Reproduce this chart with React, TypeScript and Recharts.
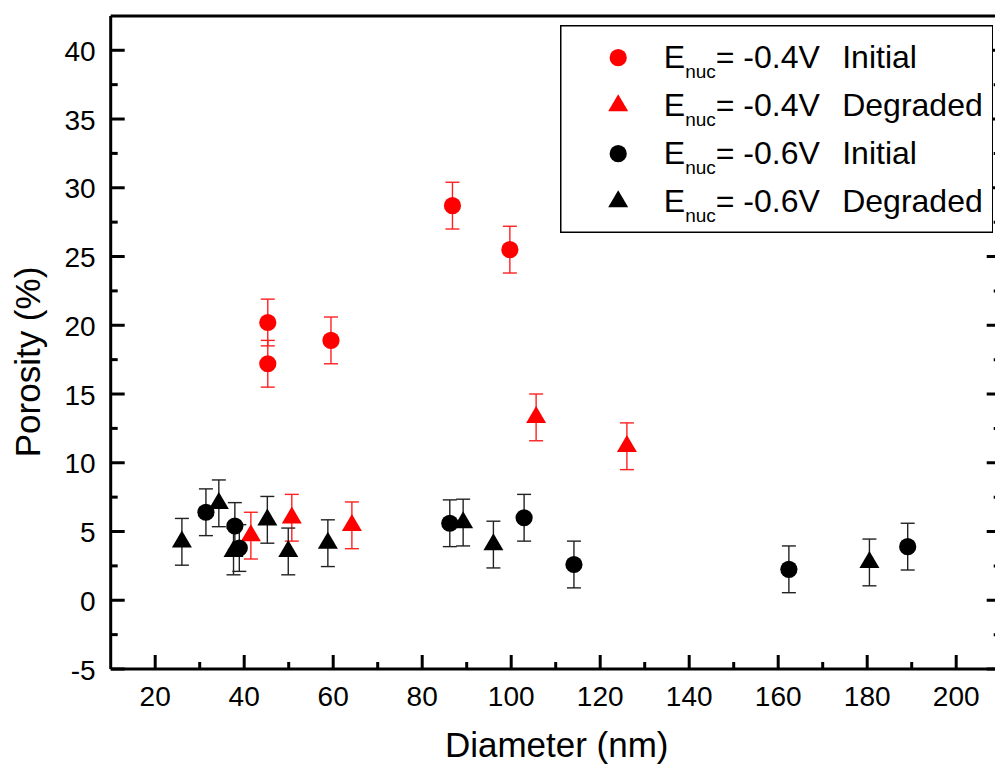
import { ErrorBar, Legend, Scatter, ScatterChart, XAxis, YAxis } from 'recharts';

// Porosity vs. pore diameter, with ± uncertainty, per nucleation potential and state
const initial04Diameter = [45.3, 45.3, 59.5, 86.8, 99.7];
const initial04Porosity = [20.2, 17.2, 18.9, 28.7, 25.5];
const initial04Error = [1.7, 1.7, 1.7, 1.7, 1.7];

const degraded04Diameter = [41.5, 50.7, 64.2, 105.6, 126.0];
const degraded04Porosity = [4.7, 6.0, 5.45, 13.3, 11.2];
const degraded04Error = [1.7, 1.7, 1.7, 1.7, 1.7];

const initial06Diameter = [31.4, 37.9, 38.9, 86.2, 102.9, 114.1, 162.4, 189.1];
const initial06Porosity = [6.4, 5.4, 3.8, 5.6, 6.0, 2.6, 2.25, 3.9];
const initial06Error = [1.7, 1.7, 1.7, 1.7, 1.7, 1.7, 1.7, 1.7];

const degraded06Diameter = [26.0, 34.3, 37.6, 45.2, 49.9, 58.8, 89.2, 96.0, 180.5];
const degraded06Porosity = [4.25, 7.05, 3.55, 5.85, 3.55, 4.15, 5.65, 4.05, 2.75];
const degraded06Error = [1.7, 1.7, 1.7, 1.7, 1.7, 1.7, 1.7, 1.7, 1.7];

const xMajorTicks = [20, 40, 60, 80, 100, 120, 140, 160, 180, 200];
const xMinorTicks = [30, 50, 70, 90, 110, 130, 150, 170, 190];
const yMajorTicks = [-5, 0, 5, 10, 15, 20, 25, 30, 35, 40];
const yMinorTicks = [-2.5, 2.5, 7.5, 12.5, 17.5, 22.5, 27.5, 32.5, 37.5];

const FONT = '"Liberation Sans", Arial, sans-serif';
const CHART_W = 1010;
const CHART_H = 768;
const PLOT = { left: 110.7, top: 15.9, right: 1000.7, bottom: 669 };
// axes need a non-zero size to be drawn at all
const AXIS_SIZE = 1;

const toPoints = (xs: number[], ys: number[], errs: number[]) =>
  xs.map((x, i) => ({ x, y: ys[i], err: errs[i] }));

type Marker = 'circle' | 'triangle';

const series = [
  { id: 'i04', potential: '-0.4V', state: 'Initial', color: '#ff0000', bar: '#ff2020', marker: 'circle' as Marker,
    data: toPoints(initial04Diameter, initial04Porosity, initial04Error) },
  { id: 'd04', potential: '-0.4V', state: 'Degraded', color: '#ff0000', bar: '#ff2020', marker: 'triangle' as Marker,
    data: toPoints(degraded04Diameter, degraded04Porosity, degraded04Error) },
  { id: 'i06', potential: '-0.6V', state: 'Initial', color: '#000000', bar: '#222222', marker: 'circle' as Marker,
    data: toPoints(initial06Diameter, initial06Porosity, initial06Error) },
  { id: 'd06', potential: '-0.6V', state: 'Degraded', color: '#000000', bar: '#222222', marker: 'triangle' as Marker,
    data: toPoints(degraded06Diameter, degraded06Porosity, degraded06Error) },
];

const MarkerGlyph = ({ cx, cy, marker, color }: { cx: number; cy: number; marker: Marker; color: string }) => {
  if (marker === 'circle') return <circle cx={cx} cy={cy} r={8.6} fill={color} />;
  const half = 10;
  const h = 17;
  const pts = `${cx},${cy - (2 * h) / 3} ${cx - half},${cy + h / 3} ${cx + half},${cy + h / 3}`;
  return <polygon points={pts} fill={color} />;
};

// Inward-pointing major/minor ticks; labels only on the bottom and left axes
type Side = 'left' | 'right' | 'top' | 'bottom';
const makeTick = (side: Side, majors: number[], labelled: boolean) => (props: any) => {
  const { x, y, payload } = props;
  const major = majors.includes(payload.value);
  const len = major ? 14 : 7;
  let x2 = x;
  let y2 = y;
  if (side === 'left') x2 = x + len;
  if (side === 'right') x2 = x - len;
  if (side === 'top') y2 = y + len;
  if (side === 'bottom') y2 = y - len;
  return (
    <g>
      <line x1={x} y1={y} x2={x2} y2={y2} stroke="#000" strokeWidth={3} />
      {labelled && major && side === 'left' && (
        <text x={x - 15} y={y + 10.5} textAnchor="end" fontSize={28} fontFamily={FONT} fill="#000">
          {payload.value}
        </text>
      )}
      {labelled && major && side === 'bottom' && (
        <text x={x} y={y + 37} textAnchor="middle" fontSize={28} fontFamily={FONT} fill="#000">
          {payload.value}
        </text>
      )}
    </g>
  );
};

const LEGEND = { left: 559.5, top: 25, width: 433.5, height: 208 };

const LegendBox = () => (
  <svg width={LEGEND.width} height={LEGEND.height} style={{ display: 'block' }}>
    <rect x={0.75} y={0.75} width={LEGEND.width - 1.5} height={LEGEND.height - 1.5} fill="#fff" stroke="#000" strokeWidth={1.5} />
    {series.map((s, i) => {
      const cy = 32.7 + 48 * i;
      const base = cy + 10.7;
      return (
        <g key={s.id}>
          <MarkerGlyph cx={58.2} cy={cy} marker={s.marker} color={s.color} />
          <text x={103.8} y={base} fontSize={32} fontFamily={FONT} fill="#000">
            E
            <tspan dy={10} fontSize={19}>nuc</tspan>
            <tspan dy={-10} fontSize={32}>= {s.potential}</tspan>
          </text>
          <text x={282.2} y={base} fontSize={32} fontFamily={FONT} fill="#000">
            {s.state}
          </text>
        </g>
      );
    })}
  </svg>
);

const xTicks = [...xMajorTicks, ...xMinorTicks].sort((a, b) => a - b);
const yTicks = [...yMajorTicks, ...yMinorTicks].sort((a, b) => a - b);

export default function App() {
  return (
    <div style={{ position: 'absolute', left: 0, top: 0, width: 995, height: 768, overflow: 'hidden', background: '#fff' }}>
      <ScatterChart
        width={CHART_W}
        height={CHART_H}
        margin={{
          top: PLOT.top - AXIS_SIZE,
          right: CHART_W - PLOT.right - AXIS_SIZE,
          bottom: CHART_H - PLOT.bottom - AXIS_SIZE,
          left: PLOT.left - AXIS_SIZE,
        }}
      >
        <XAxis
          xAxisId={0}
          type="number"
          dataKey="x"
          domain={[10, 210]}
          ticks={xTicks}
          interval={0}
          height={AXIS_SIZE}
          tickSize={0}
          tickMargin={0}
          tickLine={false}
          axisLine={{ stroke: '#000', strokeWidth: 3 }}
          tick={makeTick('bottom', xMajorTicks, true)}
          label={() => (
            <text x={556.7} y={757.3} textAnchor="middle" fontSize={35} fontFamily={FONT} fill="#000">
              Diameter (nm)
            </text>
          )}
        />
        <XAxis
          xAxisId="top"
          orientation="top"
          type="number"
          domain={[10, 210]}
          allowDataOverflow
          ticks={xTicks}
          interval={0}
          height={AXIS_SIZE}
          tickSize={0}
          tickMargin={0}
          tickLine={false}
          axisLine={{ stroke: '#000', strokeWidth: 3 }}
          tick={makeTick('top', xMajorTicks, false)}
        />
        <YAxis
          yAxisId={0}
          type="number"
          dataKey="y"
          domain={[-5, 42.5]}
          ticks={yTicks}
          interval={0}
          width={AXIS_SIZE}
          tickSize={0}
          tickMargin={0}
          tickLine={false}
          axisLine={{ stroke: '#000', strokeWidth: 3 }}
          tick={makeTick('left', yMajorTicks, true)}
          label={() => (
            <text x={40} y={362} transform="rotate(-90, 40, 362)" textAnchor="middle" fontSize={35} fontFamily={FONT} fill="#000">
              Porosity (%)
            </text>
          )}
        />
        <YAxis
          yAxisId="right"
          orientation="right"
          type="number"
          domain={[-5, 42.5]}
          allowDataOverflow
          ticks={yTicks}
          interval={0}
          width={AXIS_SIZE}
          tickSize={0}
          tickMargin={0}
          tickLine={false}
          axisLine={{ stroke: '#000', strokeWidth: 3 }}
          tick={makeTick('right', yMajorTicks, false)}
        />
        {series.map((s) => (
          <Scatter
            key={s.id}
            name={`${s.potential} ${s.state}`}
            data={s.data}
            fill={s.color}
            isAnimationActive={false}
            shape={(p: any) => <MarkerGlyph cx={p.cx} cy={p.cy} marker={s.marker} color={s.color} />}
          >
            <ErrorBar dataKey="err" direction="y" width={7} stroke={s.bar} strokeWidth={1.4} isAnimationActive={false} />
          </Scatter>
        ))}
        <Legend
          layout="vertical"
          align="center"
          verticalAlign="middle"
          wrapperStyle={{ position: 'absolute', left: LEGEND.left, top: LEGEND.top, width: LEGEND.width, height: LEGEND.height }}
          content={() => <LegendBox />}
        />
      </ScatterChart>
    </div>
  );
}
